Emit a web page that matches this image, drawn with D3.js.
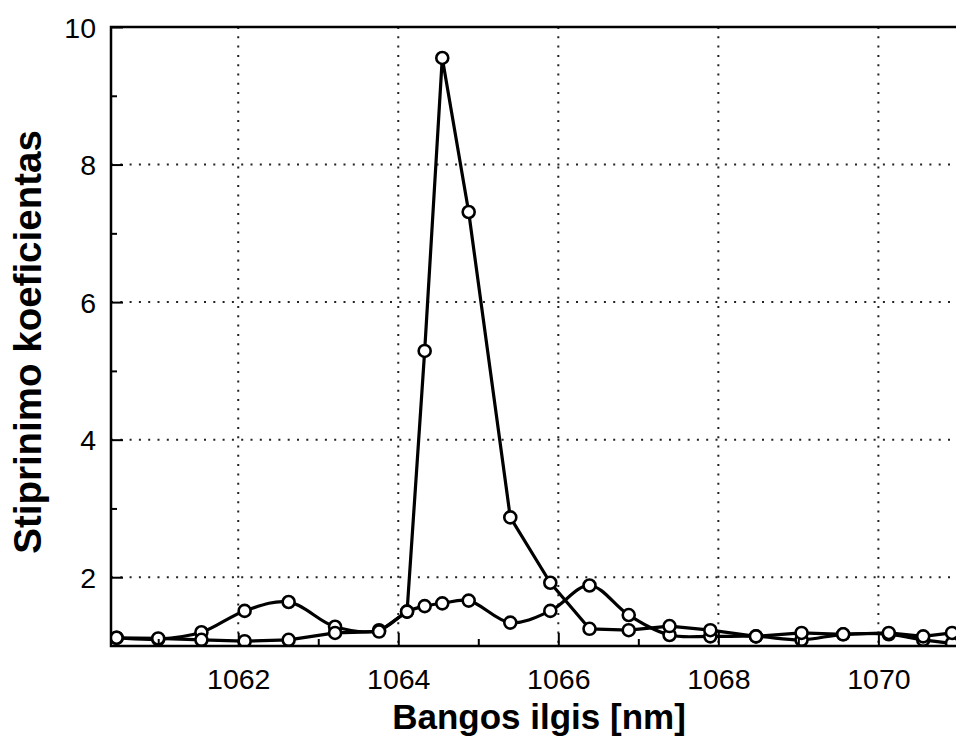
<!DOCTYPE html>
<html>
<head>
<meta charset="utf-8">
<script src="https://cdn.jsdelivr.net/npm/d3@7"></script>
<style>
  body { margin: 0; background: #fff; }
  svg { display: block; }
  text { font-family: "Liberation Sans", Arial, sans-serif; fill: #000; }
</style>
</head>
<body>
<svg id="chart" width="956" height="737"></svg>
<script>
// Wavelength samples [nm]
const wavelength = [1060.48, 1061.00, 1061.54, 1062.08, 1062.63, 1063.21, 1063.76, 1064.11,
  1064.33, 1064.55, 1064.88, 1065.40, 1065.90, 1066.39, 1066.88, 1067.39, 1067.90, 1068.47,
  1069.04, 1069.56, 1070.13, 1070.56, 1070.92];
// Gain coefficient, narrow peak series
const gainPeak = [1.12, 1.11, 1.09, 1.07, 1.09, 1.19, 1.21, 1.50,
  5.29, 9.55, 7.31, 2.87, 1.92, 1.25, 1.23, 1.29, 1.23, 1.14,
  1.19, 1.17, 1.19, 1.14, 1.19];
// Gain coefficient, broad multi-band series
const gainBroad = [1.12, 1.10, 1.20, 1.51, 1.64, 1.28, 1.23, 1.50,
  1.58, 1.62, 1.66, 1.34, 1.51, 1.88, 1.45, 1.16, 1.14, 1.14,
  1.09, 1.17, 1.17, 1.09, 1.04];

const xMajorTicks = [1062, 1064, 1066, 1068, 1070];
const xMinorTicks = [1061, 1063, 1065, 1067, 1069];
const yMajorTicks = [2, 4, 6, 8, 10];
const yMinorTicks = [3, 5, 7, 9];
const xTitle = "Bangos ilgis [nm]";
const yTitle = "Stiprinimo koeficientas";

const svg = d3.select("#chart");
const plotL = 111, plotR = 956, plotT = 27, plotB = 646;

const x = d3.scaleLinear().domain([1060.41, 1070.97]).range([plotL, plotR]);
const y = d3.scaleLinear().domain([1, 10]).range([plotB, plotT]);

// dotted grid
const grid = svg.append("g").attr("stroke", "#222").attr("stroke-width", 2)
  .attr("stroke-dasharray", "2,7.3");
grid.selectAll(".gx").data(xMajorTicks).join("line")
  .attr("x1", d => x(d)).attr("x2", d => x(d))
  .attr("y1", plotT).attr("y2", plotB);
grid.selectAll(".gy").data(yMajorTicks.filter(d => d < 10)).join("line")
  .attr("y1", d => y(d)).attr("y2", d => y(d))
  .attr("x1", plotL).attr("x2", plotR);

// clip for data
svg.append("clipPath").attr("id", "plotClip").append("rect")
  .attr("x", plotL).attr("y", plotT - 10).attr("width", plotR - plotL).attr("height", plotB - plotT + 10);

const plot = svg.append("g").attr("clip-path", "url(#plotClip)");

const peakPts = wavelength.map((w, i) => [w, gainPeak[i]]);
const broadPts = wavelength.map((w, i) => [w, gainBroad[i]]);

const linePeak = d3.line().x(d => x(d[0])).y(d => y(d[1]));
const lineBroad = d3.line().x(d => x(d[0])).y(d => y(d[1])).curve(d3.curveCatmullRom.alpha(0.5));

plot.append("path").datum(broadPts).attr("d", lineBroad)
  .attr("fill", "none").attr("stroke", "#000").attr("stroke-width", 3.2).attr("stroke-linejoin", "round");
plot.append("path").datum(peakPts).attr("d", linePeak)
  .attr("fill", "none").attr("stroke", "#000").attr("stroke-width", 3.2).attr("stroke-linejoin", "round");

[broadPts, peakPts].forEach(pts => {
  plot.append("g").selectAll("circle").data(pts).join("circle")
    .attr("cx", d => x(d[0])).attr("cy", d => y(d[1])).attr("r", 6)
    .attr("fill", "#fff").attr("stroke", "#000").attr("stroke-width", 2.6);
});

// axes
const fontSize = 28.5;
const xAxis = svg.append("g").attr("transform", `translate(0,${plotB})`)
  .call(d3.axisBottom(x).tickValues(xMajorTicks).tickSizeInner(-13).tickSizeOuter(0)
    .tickFormat(d3.format("d")).tickPadding(0));
xAxis.select(".domain").remove();
xAxis.selectAll(".tick line").attr("stroke", "#000").attr("stroke-width", 2);
xAxis.selectAll(".tick text").attr("font-size", fontSize).attr("y", 43).attr("dy", null)
  .attr("font-family", "Liberation Sans, Arial, sans-serif");

const xMinor = svg.append("g").attr("transform", `translate(0,${plotB})`)
  .call(d3.axisBottom(x).tickValues(xMinorTicks).tickSizeInner(-7).tickSizeOuter(0).tickFormat(""));
xMinor.select(".domain").remove();
xMinor.selectAll(".tick line").attr("stroke", "#000").attr("stroke-width", 2);

const yAxis = svg.append("g").attr("transform", `translate(${plotL},0)`)
  .call(d3.axisLeft(y).tickValues(yMajorTicks).tickSizeInner(-12).tickSizeOuter(0)
    .tickFormat(d3.format("d")).tickPadding(0));
yAxis.select(".domain").remove();
yAxis.selectAll(".tick line").attr("stroke", "#000").attr("stroke-width", 2);
yAxis.selectAll(".tick text").attr("font-size", fontSize).attr("x", -15).attr("dy", "0.36em")
  .attr("font-family", "Liberation Sans, Arial, sans-serif");

const yMinor = svg.append("g").attr("transform", `translate(${plotL},0)`)
  .call(d3.axisLeft(y).tickValues(yMinorTicks).tickSizeInner(-6).tickSizeOuter(0).tickFormat(""));
yMinor.select(".domain").remove();
yMinor.selectAll(".tick line").attr("stroke", "#000").attr("stroke-width", 2);

// frame (left, top, bottom)
svg.append("path")
  .attr("d", `M${plotR},${plotT}H${plotL}V${plotB}H${plotR}`)
  .attr("fill", "none").attr("stroke", "#000").attr("stroke-width", 2.5);

// titles
svg.append("text").text(xTitle)
  .attr("x", 539).attr("y", 729).attr("text-anchor", "middle")
  .attr("font-size", 35).attr("font-weight", "bold");
svg.append("text").text(yTitle)
  .attr("transform", "translate(41,342) rotate(-90)").attr("text-anchor", "middle")
  .attr("font-size", 38.5).attr("font-weight", "bold");
</script>
</body>
</html>
